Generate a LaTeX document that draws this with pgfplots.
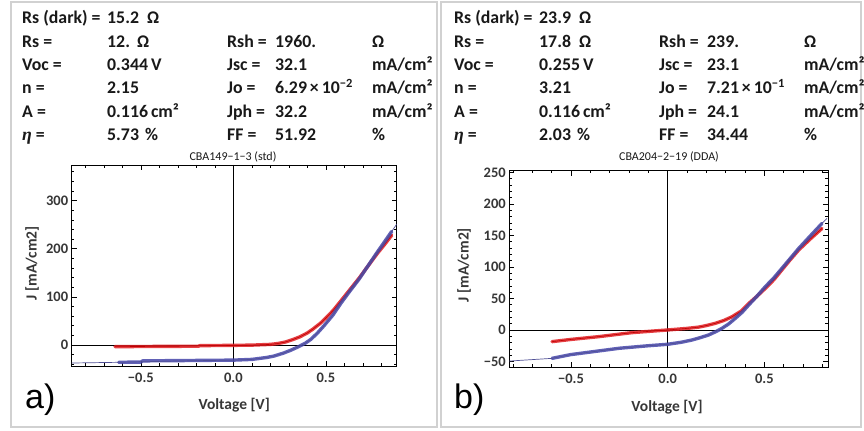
\documentclass[border=0pt]{standalone}
\usepackage{pgfplots}
\pgfplotsset{compat=1.18}
\usepackage{fontspec}
\setmainfont{Carlito}
\newfontfamily\arialf{Liberation Sans}
\newfontfamily\etaf{Liberation Serif}
\definecolor{dred}{RGB}{225,30,35}
\definecolor{dredthin}{RGB}{190,0,0}
\definecolor{dblue}{RGB}{70,70,170}
\definecolor{dbluethin}{RGB}{80,80,150}
\definecolor{txt}{RGB}{25,25,25}
\definecolor{tlab}{RGB}{55,55,55}
\newcommand{\tx}[3]{\node[anchor=base west, inner sep=0pt, font=\fontsize{17.8bp}{20bp}\selectfont\bfseries, text=txt] at (#1bp,#2bp) {#3};}
\newcommand{\mn}{\char"2212\relax}
\newcommand{\myeta}{{\etaf\bfseries\itshape η}}
\pgfplotsset{
  ivstyle/.style={
    scale only axis,
    anchor=south west,
    axis line style={black, line width=0.6bp},
    tick align=inside,
    xtick pos=both, ytick pos=both,
    major tick length=5bp, minor tick length=2.8bp,
    every tick/.style={black, line width=0.5bp},
    /pgf/number format/assume math mode=true,
    tick label style={font=\fontsize{14.5bp}{16bp}\selectfont\bfseries, text=tlab},
    xticklabel style={yshift=-3bp},
    label style={font=\fontsize{15.5bp}{17bp}\selectfont\bfseries, text=tlab},
    xtick={-0.5,0,0.5},
    xticklabels={\mn0.5,0.0,0.5},
    minor xtick={-0.8,-0.7,...,0.85},
    clip=true,
  },
  thickred/.style={dred, line width=3.4bp, opacity=0.85, line join=round, line cap=round},
  thinred/.style={dredthin, line width=0.6bp},
  thickblue/.style={dblue, line width=3.4bp, opacity=0.85, line join=round, line cap=round},
  thinblue/.style={dbluethin, line width=0.7bp},
}
\begin{document}
\begin{tikzpicture}
\path[use as bounding box, fill=white] (0,0) rectangle (864bp,431bp);
\draw[line width=1.3bp, black!18] (11bp,4bp) rectangle (437bp,429bp);
\draw[line width=1.3bp, black!18] (441bp,4bp) rectangle (861bp,429bp);

% ---- panel a texts
\tx{22}{407}{Rs (dark) =} \tx{107}{407}{15.2} \tx{147}{407}{Ω}
\tx{22}{383.7}{Rs =} \tx{107}{383.7}{12.} \tx{137}{383.7}{Ω}
\tx{22}{360.3}{Voc =} \tx{107}{360.3}{0.344\,V}
\tx{22}{337}{n =} \tx{107}{337}{2.15}
\tx{22}{313.5}{A =} \tx{107}{313.5}{0.116\,cm²}
\tx{22}{290}{\myeta\ =} \tx{107}{290}{5.73} \tx{145}{290}{\%}
\tx{227}{383.7}{Rsh =} \tx{275}{383.7}{1960.} \tx{372}{383.7}{Ω}
\tx{227}{360.3}{Jsc =} \tx{275}{360.3}{32.1} \tx{372}{360.3}{mA/cm²}
\tx{227}{337}{Jo =} \tx{275}{337}{6.29\,×\,10\textsuperscript{\mn2}} \tx{372}{337}{mA/cm²}
\tx{227}{313.5}{Jph =} \tx{275}{313.5}{32.2} \tx{372}{313.5}{mA/cm²}
\tx{227}{290}{FF =} \tx{275}{290}{51.92} \tx{372}{290}{\%}
% ---- panel b texts
\tx{454}{407}{Rs (dark) =} \tx{539}{407}{23.9} \tx{579}{407}{Ω}
\tx{454}{383.7}{Rs =} \tx{539}{383.7}{17.8} \tx{579}{383.7}{Ω}
\tx{454}{360.3}{Voc =} \tx{539}{360.3}{0.255\,V}
\tx{454}{337}{n =} \tx{539}{337}{3.21}
\tx{454}{313.5}{A =} \tx{539}{313.5}{0.116\,cm²}
\tx{454}{290}{\myeta\ =} \tx{539}{290}{2.03} \tx{577}{290}{\%}
\tx{659}{383.7}{Rsh =} \tx{707}{383.7}{239.} \tx{804}{383.7}{Ω}
\tx{659}{360.3}{Jsc =} \tx{707}{360.3}{23.1} \tx{804}{360.3}{mA/cm²}
\tx{659}{337}{Jo =} \tx{707}{337}{7.21\,×\,10\textsuperscript{\mn1}} \tx{804}{337}{mA/cm²}
\tx{659}{313.5}{Jph =} \tx{707}{313.5}{24.1} \tx{804}{313.5}{mA/cm²}
\tx{659}{290}{FF =} \tx{707}{290}{34.44} \tx{804}{290}{\%}

\node[font=\fontsize{12bp}{13bp}\selectfont, text=txt] at (233bp,274bp) {CBA149\mn1\mn3 (std)};
\node[font=\fontsize{12bp}{13bp}\selectfont, text=txt] at (669bp,274bp) {CBA204\mn2\mn19 (DDA)};

\node[anchor=base west, inner sep=0pt, font=\arialf\fontsize{34bp}{38bp}\selectfont] at (25bp,23bp) {a)};
\node[anchor=base west, inner sep=0pt, font=\arialf\fontsize{34bp}{38bp}\selectfont] at (454bp,23bp) {b)};

% ---- panel a axis
\begin{axis}[ivstyle,
  at={(71.7bp,65bp)}, width=325bp, height=201bp,
  xmin=-0.874, xmax=0.883, ymin=-43.7, ymax=374,
  ytick={0,100,200,300},
  yticklabels={0,100,200,300},
  minor ytick={-40,-20,...,360},
  xlabel={Voltage [V]}, ylabel={J [mA/cm2]},
  xlabel style={at={(axis description cs:0.5,-0.194)}, anchor=center},
  ylabel style={at={(axis description cs:-0.122,0.512)}, anchor=center},
]
\draw[black, line width=0.6bp] (axis cs:0,-43.7) -- (axis cs:0,374);
\draw[black, line width=0.6bp] (axis cs:-0.874,0) -- (axis cs:0.883,0);
\addplot[thickred] coordinates {(-0.64,-3.5) (-0.5,-3.2) (-0.3,-2.8) (-0.19,-2.6) (-0.18,-1.4) (0,-0.8) (0.1,-0.3) (0.2,1.2) (0.24,3) (0.28,6) (0.32,11) (0.36,17) (0.40,25) (0.43,33) (0.47,45) (0.50,56) (0.54,72) (0.58,91) (0.63,115) (0.68,139) (0.72,160) (0.78,191) (0.82,210) (0.856,228)};
\addplot[thinred] coordinates {(-0.64,-3.5) (-0.3,-2.6) (0,-1) (0.1,-0.3) (0.2,1.2) (0.24,3) (0.28,6) (0.32,11) (0.36,17) (0.40,25) (0.43,33) (0.47,45) (0.50,56) (0.54,72) (0.58,91) (0.63,115) (0.68,139) (0.72,160) (0.78,191) (0.82,210) (0.856,228)};
\addplot[thickblue] coordinates {(-0.62,-36) (-0.5,-35.5) (-0.49,-33) (-0.3,-32.5) (-0.1,-31.8) (0,-31.5) (0.1,-30) (0.18,-26) (0.22,-23) (0.27,-17) (0.31,-11) (0.35,-4) (0.39,4) (0.42,12) (0.455,25) (0.49,40) (0.54,63) (0.58,86) (0.63,112) (0.68,137) (0.72,160) (0.78,194) (0.82,216) (0.856,236)};
\addplot[thinblue] coordinates {(-0.874,-37.5) (-0.62,-36) (-0.3,-33.3) (0,-31.5) (0.1,-30) (0.18,-26) (0.22,-23) (0.27,-17) (0.31,-11) (0.35,-4) (0.39,4) (0.42,12) (0.455,25) (0.49,40) (0.54,63) (0.58,86) (0.63,112) (0.68,137) (0.72,160) (0.78,194) (0.82,216) (0.856,236) (0.883,251)};
\end{axis}

% ---- panel b axis
\begin{axis}[ivstyle,
  at={(509.3bp,63.7bp)}, width=318.7bp, height=196.6bp,
  xmin=-0.819, xmax=0.829, ymin=-59.2, ymax=252.6,
  ytick={-50,0,50,100,150,200,250},
  yticklabels={\mn50,0,50,100,150,200,250},
  minor ytick={-50,-40,...,250},
  xlabel={Voltage [V]}, ylabel={J [mA/cm2]},
  xlabel style={at={(axis description cs:0.495,-0.202)}, anchor=center},
  ylabel style={at={(axis description cs:-0.142,0.52)}, anchor=center},
]
\draw[black, line width=0.6bp] (axis cs:0,-59.2) -- (axis cs:0,252.6);
\draw[black, line width=0.6bp] (axis cs:-0.819,0) -- (axis cs:0.829,0);
\addplot[thickred] coordinates {(-0.598,-18.5) (-0.5,-15) (-0.357,-10.6) (-0.184,-4.2) (0,0) (0.1,2.5) (0.16,4.5) (0.2,7) (0.247,10.6) (0.29,15) (0.333,21) (0.38,30) (0.419,42) (0.46,53) (0.505,66) (0.55,80) (0.59,95) (0.63,110) (0.678,127) (0.74,145) (0.798,161)};
\addplot[thinred] coordinates {(-0.598,-18.5) (-0.5,-15) (-0.357,-10.6) (-0.184,-4.2) (0,0) (0.1,2.5) (0.16,4.5) (0.2,7) (0.247,10.6) (0.29,15) (0.333,21) (0.38,30) (0.419,42) (0.46,53) (0.505,66) (0.55,80) (0.59,95) (0.63,110) (0.678,127) (0.74,145) (0.798,161)};
\addplot[thickblue] coordinates {(-0.598,-45) (-0.5,-39) (-0.25,-29) (-0.1,-25) (0,-22.7) (0.07,-19.5) (0.126,-15.9) (0.17,-12) (0.212,-7.9) (0.25,-2.5) (0.281,2.6) (0.315,9.5) (0.35,18.5) (0.385,28) (0.419,39.6) (0.46,53) (0.505,68.7) (0.55,83) (0.591,97.8) (0.63,112) (0.678,129.5) (0.74,150) (0.798,169)};
\addplot[thinblue] coordinates {(-0.819,-49.3) (-0.598,-45) (-0.5,-39) (-0.25,-29) (-0.1,-25) (0,-22.7) (0.07,-19.5) (0.126,-15.9) (0.17,-12) (0.212,-7.9) (0.25,-2.5) (0.281,2.6) (0.315,9.5) (0.35,18.5) (0.385,28) (0.419,39.6) (0.46,53) (0.505,68.7) (0.55,83) (0.591,97.8) (0.63,112) (0.678,129.5) (0.74,150) (0.798,169) (0.824,177)};
\end{axis}
\end{tikzpicture}
\end{document}
